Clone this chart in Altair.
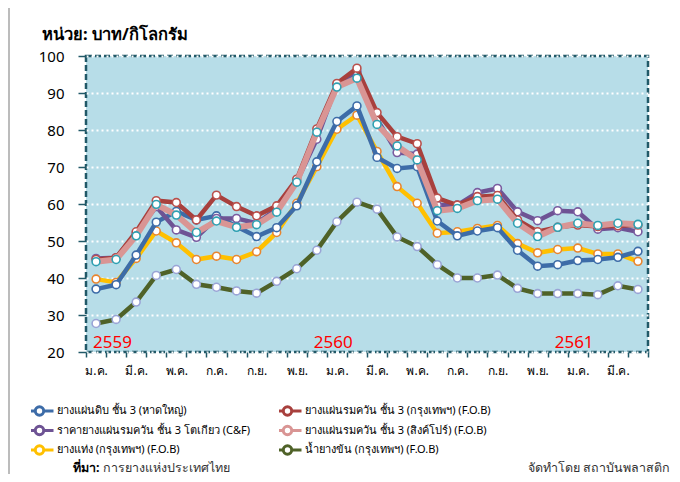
import altair as alt
import pandas as pd

# ---------------- data ----------------
month_names = ["ม.ค.", "ก.พ.", "มี.ค.", "เม.ย.", "พ.ค.", "มิ.ย.", "ก.ค.", "ส.ค.", "ก.ย.", "ต.ค.", "พ.ย.", "ธ.ค."]
n_months = 28  # ม.ค. 2559 .. เม.ย. 2561

s_blue = "ยางแผ่นดิบ ชั้น 3 (หาดใหญ่)"
s_red = " ยางแผ่นรมควัน ชั้น 3 (กรุงเทพฯ) (F.O.B)"
s_purple = "ราคายางแผ่นรมควัน ชั้น 3 โตเกียว (C&F)"
s_pink = "ยางแผ่นรมควัน ชั้น 3 (สิงค์โปร์) (F.O.B)"
s_yellow = "ยางแท่ง (กรุงเทพฯ) (F.O.B)"
s_green = "น้ำยางข้น (กรุงเทพฯ) (F.O.B)"

blue = [37.0, 38.2, 46.2, 55.1, 58.0, 55.7, 56.8, 53.9, 51.2, 53.6, 59.5, 71.4, 82.3, 86.5,
        72.6, 69.6, 70.1, 55.4, 51.4, 52.7, 53.6, 47.5, 43.2, 43.6, 44.7, 45.0, 45.6, 47.2]
red = [45.0, 45.5, 52.5, 60.9, 60.4, 55.7, 62.4, 59.3, 56.8, 59.5, 66.7, 80.3, 92.6, 96.7,
       84.7, 78.2, 76.3, 61.6, 59.7, 62.0, 62.3, 55.7, 52.5, 53.7, 54.3, 53.9, 54.1, 54.3]
purple = [45.3, 45.5, 52.1, 59.3, 53.0, 51.0, 56.1, 56.1, 54.8, 58.6, 66.0, 77.5, 92.3, 95.8,
          82.9, 73.9, 73.5, 59.7, 59.7, 63.1, 64.2, 57.9, 55.5, 58.2, 57.9, 53.2, 53.6, 52.5]
pink = [44.4, 45.0, 51.4, 59.9, 57.0, 52.3, 55.4, 53.7, 54.4, 57.8, 65.9, 79.4, 91.6, 94.0,
        81.5, 75.7, 71.9, 58.2, 58.8, 60.9, 61.3, 54.8, 51.2, 53.7, 54.8, 54.2, 54.8, 54.5]
yellow = [39.7, 38.8, 45.3, 52.7, 49.5, 45.0, 45.9, 45.0, 47.1, 52.3, 60.2, 70.1, 80.2, 84.0,
          74.2, 64.7, 60.2, 52.1, 52.5, 53.4, 54.2, 49.3, 46.8, 47.7, 48.1, 46.5, 46.5, 44.5]
green = [27.7, 28.8, 33.5, 40.7, 42.3, 38.3, 37.5, 36.5, 35.9, 39.1, 42.5, 47.5, 55.2, 60.5,
         58.6, 51.1, 48.5, 43.6, 40.0, 40.0, 40.8, 37.2, 35.8, 35.8, 35.8, 35.5, 37.9, 36.9]

# legend fills column by column: left column first, then right column
legend_order = [s_blue, s_purple, s_yellow, s_red, s_pink, s_green]
line_colors = ["#3d6ca8", "#6e5394", "#ffc000", "#a8403d", "#d99594", "#4f6228"]
point_strokes = ["#3d6ca8", "#7a5ca0", "#e8852f", "#b9504c", "#2fa0b2", "#9aa4d6"]
draw_order = [s_green, s_yellow, s_blue, s_purple, s_red, s_pink]
series_values = {s_blue: blue, s_red: red, s_purple: purple, s_pink: pink,
                 s_yellow: yellow, s_green: green}

year_labels = ["2559", "2560", "2561"]
year_pos = [0, 11, 23]

rows = []
for s, vals in series_values.items():
    for i, v in enumerate(vals):
        rows.append({"i": i, "series": s, "value": v})
df = pd.DataFrame(rows)
years_df = pd.DataFrame({"i": year_pos, "label": year_labels, "y": [21] * 3})

# ---------------- chart ----------------
FONT = "Noto Sans"
month_js = "[" + ",".join("'" + m + "'" for m in month_names) + "]"
x_scale = alt.Scale(type="band", paddingInner=0, paddingOuter=0, domain=list(range(n_months)))
y_scale = alt.Scale(domain=[20, 100], nice=False, zero=False)

x_axis = alt.Axis(
    title=None,
    labelExpr=f"datum.value % 2 == 0 ? {month_js}[datum.value % 12] : ''",
    labelAngle=0,
    tickBand="extent",
    tickSize=5,
    tickColor="#215968",
    tickWidth=1.5,
    domain=False,
    labelPadding=8,
    labelFontSize=12,
    labelColor="#000000",
    labelFont=FONT,
    labelOverlap=False,
    grid=False,
)
y_axis = alt.Axis(
    title=None,
    values=list(range(20, 101, 10)),
    tickCount=9,
    tickSize=8,
    tickColor="#215968",
    tickWidth=1.5,
    domain=False,
    labelPadding=14,
    labelFontSize=15,
    labelColor="#000000",
    labelFont=FONT,
    labelOverlap=False,
    labelFlush=False,
    grid=True,
    gridColor="#ffffff",
    gridDash=[2, 3],
    gridWidth=2,
)

x_enc = alt.X("i:O", scale=x_scale, bandPosition=0.5, axis=x_axis)
y_enc = alt.Y("value:Q", scale=y_scale, axis=y_axis)

color_scale = alt.Scale(domain=legend_order, range=line_colors)
stroke_scale = alt.Scale(domain=legend_order, range=point_strokes)

legend = alt.Legend(
    title=None,
    orient="none",
    legendX=-55,
    legendY=348,
    columns=2,
    columnPadding=28,
    rowPadding=5.5,
    clipHeight=14,
    symbolType="M-2,0L-0.6,0M0.6,0L2,0M-0.6,0A0.6,0.6,0,1,1,0.6,0A0.6,0.6,0,1,1,-0.6,0",
    symbolSize=196,
    symbolStrokeWidth=3,
    symbolFillColor="#ffffff",
    labelFontSize=11,
    labelFont=FONT,
    labelColor="#000000",
    labelLimit=400,
    labelOffset=9,
)

layers = []
for s in draw_order:
    base = alt.Chart(df).transform_filter(alt.datum.series == s)
    w = 6 if s == s_pink else 4.5
    line = base.mark_line(strokeWidth=w).encode(
        x=x_enc,
        y=y_enc,
        color=alt.Color("series:N", scale=color_scale, legend=legend),
    )
    pts = base.mark_point(filled=False, fill="#ffffff", fillOpacity=1, size=62, strokeWidth=1.6, opacity=1).encode(
        x=x_enc,
        y=y_enc,
        stroke=alt.Stroke("series:N", scale=stroke_scale, legend=None),
    )
    layers += [line, pts]

years = alt.Chart(years_df).mark_text(
    align="left", baseline="alphabetic", fontSize=17, color="#ff0000", font=FONT, dx=-3
).encode(
    x=x_enc,
    y=alt.Y("y:Q", scale=y_scale, axis=y_axis),
    text="label:N",
)

unit_title = alt.Chart(pd.DataFrame({"t": ["หน่วย: บาท/กิโลกรัม"]})).mark_text(
    align="left", baseline="middle", fontSize=16.5, fontWeight="bold", font=FONT, color="#000000"
).encode(x=alt.value(-44), y=alt.value(-21), text="t:N")

src_bold = alt.Chart(pd.DataFrame({"t": ["ที่มา:"]})).mark_text(
    align="left", baseline="middle", fontSize=12.5, fontWeight="bold", font=FONT, color="#000000"
).encode(x=alt.value(-13), y=alt.value(411.5), text="t:N")
src_text = alt.Chart(pd.DataFrame({"t": ["การยางแห่งประเทศไทย"]})).mark_text(
    align="left", baseline="middle", fontSize=12.5, font=FONT, color="#333333"
).encode(x=alt.value(17), y=alt.value(411.5), text="t:N")
made_by = alt.Chart(pd.DataFrame({"t": ["จัดทำโดย สถาบันพลาสติก"]})).mark_text(
    align="right", baseline="middle", fontSize=12.5, font=FONT, color="#333333"
).encode(x=alt.value(584), y=alt.value(411.5), text="t:N")

frame = alt.Chart(pd.DataFrame({"a": [0]})).mark_rule(color="#a6a6a6", strokeWidth=1.5).encode(
    x=alt.value(-77), y=alt.value(-56), y2=alt.value(426)
)

chart = alt.layer(*layers, years, unit_title, src_bold, src_text, made_by, frame).resolve_scale(
    color="shared", stroke="shared"
).properties(
    width=562,
    height=296,
    padding={"left": 78, "top": 48, "right": 24, "bottom": 122},
    autosize="none",
    background="#ffffff",
).configure_view(
    fill="#b7dde8",
    stroke="#215968",
    strokeWidth=2.5,
    strokeDash=[6, 3],
)

chart.save("out.html", embed_options={"renderer": "svg", "actions": False})
